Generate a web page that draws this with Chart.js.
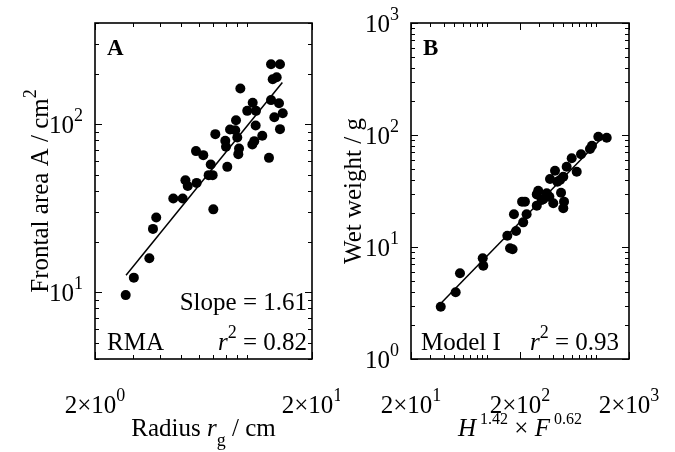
<!DOCTYPE html>
<html>
<head>
<meta charset="utf-8">
<script src="https://cdn.jsdelivr.net/npm/chart.js@4.4.0/dist/chart.umd.min.js"></script>
<style>
  html, body { margin: 0; padding: 0; background: #fff; }
  #wrap { position: relative; width: 675px; height: 452px; }
  canvas { position: absolute; top: 0; }
  #chartA { left: 0; }
  #chartB { left: 340px; }
</style>
</head>
<body>
<div id="wrap">
  <canvas id="chartA" width="340" height="452"></canvas>
  <canvas id="chartB" width="335" height="452"></canvas>
</div>
<script>
// Panel A: gyration radius vs frontal area
const radiusA = [2.77, 3.02, 3.56, 3.70, 3.83, 4.59, 5.07, 5.22, 5.35, 5.88, 5.84, 6.31, 6.68, 6.97, 6.83,
  7.02, 7.17, 8.14, 7.97, 8.03, 8.38, 8.93, 9.05, 9.22, 9.15, 9.35, 10.06, 10.66, 11.04, 11.0, 10.62,
  10.84, 11.8, 12.67, 12.95, 12.95, 14.24, 13.18, 13.75, 14.09, 13.41, 14.66, 14.24, 8.86];
const areaA = [9.6, 12.2, 15.9, 23.8, 27.8, 36.1, 36.1, 46.4, 42.8, 44.7, 69.1, 65.4, 49.7, 49.7, 57.5,
  31.1, 87.2, 55.7, 79.6, 73.3, 93.0, 105.6, 83.3, 71.7, 66.3, 163, 120, 134, 120, 98.2, 75.7,
  79.2, 85.2, 63.0, 139, 227, 227, 185, 190, 133, 110, 116, 93.4, 92];
const fitRadiusA = [2.78, 14.6];
const fitAreaA = [12.6, 177];
const xRangeA = [2, 20];
const yRangeA = [4, 400];
const xTicksA = [2, 20];
const xTickLabelsA = ['2×10^{0}', '2×10^{1}'];
const yTicksA = [10, 100];
const yTickLabelsA = ['10^{1}', '10^{2}'];

// Panel B: H^1.42 x F^0.62 vs wet weight
const sizeB = [37.5, 51.4, 56.3, 91, 92.1, 153, 162, 171, 184, 176, 214, 230, 209, 222, 285, 294, 327,
  372, 404, 377, 419, 440, 476, 507, 499, 499, 536, 596, 663, 726, 877, 915, 1046, 1249, 352, 316, 466, 285];
const weightB = [2.93, 3.94, 5.82, 7.93, 6.81, 12.6, 9.74, 9.54, 13.9, 19.6, 16.6, 19.6, 25.4, 25.4, 23.4,
  31.8, 26.7, 28.1, 24.6, 40.5, 48.0, 38.3, 30.5, 25.4, 22.2, 42.4, 52.1, 61.9, 47.0, 67.3, 75.0, 80.3,
  96.6, 94.6, 30.2, 26.3, 39.6, 29.5];
const fitSizeB = [35.6, 1084];
const fitWeightB = [2.97, 90.3];
const xRangeB = [20, 2000];
const yRangeB = [1, 1000];
const xTicksB = [20, 200, 2000];
const xTickLabelsB = ['2×10^{1}', '2×10^{2}', '2×10^{3}'];
const yTicksB = [1, 10, 100, 1000];
const yTickLabelsB = ['10^{0}', '10^{1}', '10^{2}', '10^{3}'];

const FONT = "'Liberation Serif', 'Times New Roman', serif";
const FS = 25;

// tiny markup: $italic$, ^{sup}, _{sub}
function parseRich(str) {
  const parts = [];
  const re = /\$([^$]*)\$|\^\{([^}]*)\}|_\{([^}]*)\}|([^$^_]+)/g;
  let m;
  while ((m = re.exec(str))) {
    if (m[1] !== undefined) parts.push({ t: m[1], italic: true });
    else if (m[2] !== undefined) parts.push({ t: m[2], sup: true });
    else if (m[3] !== undefined) parts.push({ t: m[3], sub: true });
    else parts.push({ t: m[4] });
  }
  return parts;
}

function drawRich(ctx, str, x, y, align, size, bold, supScale) {
  const parts = parseRich(str);
  const ss = supScale || 0.72;
  const fontFor = (p) => {
    const s = p.sup || p.sub ? Math.round(size * ss) : size;
    return (p.italic ? 'italic ' : '') + (bold ? 'bold ' : '') + s + 'px ' + FONT;
  };
  let w = 0;
  parts.forEach((p) => { ctx.font = fontFor(p); p.w = ctx.measureText(p.t).width; w += p.w; });
  let cx = align === 'center' ? x - w / 2 : align === 'right' ? x - w : x;
  ctx.textAlign = 'left';
  ctx.textBaseline = 'alphabetic';
  parts.forEach((p) => {
    ctx.font = fontFor(p);
    const dy = p.sup ? -size * 0.5 : p.sub ? size * 0.38 : 0;
    ctx.fillText(p.t, cx, y + dy);
    cx += p.w;
  });
}

function logSteps(min, max) {
  const out = [];
  for (let d = Math.floor(Math.log10(min)); d <= Math.ceil(Math.log10(max)); d++) {
    for (let k = 1; k <= 9; k++) {
      const v = k * Math.pow(10, d);
      if (v >= min * 0.999 && v <= max * 1.001) out.push(v);
    }
  }
  return out;
}

const isMajor = (v, list) => list.some((t) => Math.abs(t - v) / t < 1e-6);

// box, inward ticks, tick labels and texts
const framePlugin = {
  id: 'frame',
  afterDatasetsDraw(chart, args, o) {
    const { ctx, chartArea: a } = chart;
    const sx = chart.scales.x, sy = chart.scales.y;
    ctx.save();
    ctx.fillStyle = '#000';
    ctx.strokeStyle = '#000';
    ctx.lineWidth = 1;
    logSteps(sx.min, sx.max).forEach((v) => {
      const px = Math.round(sx.getPixelForValue(v)) + 0.5;
      const len = isMajor(v, o.xTicks) ? 7 : 4;
      ctx.beginPath();
      ctx.moveTo(px, a.bottom); ctx.lineTo(px, a.bottom - len);
      ctx.moveTo(px, a.top); ctx.lineTo(px, a.top + len);
      ctx.stroke();
    });
    logSteps(sy.min, sy.max).forEach((v) => {
      const py = Math.round(sy.getPixelForValue(v)) + 0.5;
      const len = isMajor(v, o.yTicks) ? 7 : 4;
      ctx.beginPath();
      ctx.moveTo(a.left, py); ctx.lineTo(a.left + len, py);
      ctx.moveTo(a.right, py); ctx.lineTo(a.right - len, py);
      ctx.stroke();
    });
    ctx.lineWidth = 1.6;
    ctx.strokeRect(a.left, a.top, a.right - a.left, a.bottom - a.top);

    o.xTicks.forEach((v, i) => {
      drawRich(ctx, o.xLabels[i], sx.getPixelForValue(v), a.bottom + 54, 'center', FS);
    });
    o.yTicks.forEach((v, i) => {
      drawRich(ctx, o.yLabels[i], a.left - 12, sy.getPixelForValue(v) + 9, 'right', FS);
    });

    drawRich(ctx, o.xTitle, (a.left + a.right) / 2, a.bottom + 77, 'center', FS, false, o.xTitleSup);
    ctx.save();
    ctx.translate(o.yTitleX, (a.top + a.bottom) / 2);
    ctx.rotate(-Math.PI / 2);
    drawRich(ctx, o.yTitle, 0, 0, 'center', FS);
    ctx.restore();

    drawRich(ctx, o.letter, a.left + 12, a.top + 32, 'left', 23, true);
    o.notes.forEach((n) => {
      drawRich(ctx, n.text, n.right ? a.right - n.dx : a.left + n.dx, a.bottom - n.dy, n.right ? 'right' : 'left', FS);
    });
    ctx.restore();
  },
};

function pts(xs, ys) {
  return xs.map((x, i) => ({ x, y: ys[i] }));
}

function makeChart(id, p) {
  return new Chart(document.getElementById(id), {
    type: 'scatter',
    data: {
      datasets: [
        {
          data: pts(p.xs, p.ys),
          pointRadius: 5,
          pointBackgroundColor: '#000',
          pointBorderWidth: 0,
        },
        {
          data: pts(p.fx, p.fy),
          showLine: true,
          borderColor: '#000',
          borderWidth: 1.5,
          pointRadius: 0,
        },
      ],
    },
    options: {
      responsive: false,
      animation: false,
      events: [],
      layout: { padding: p.padding },
      plugins: { legend: { display: false }, tooltip: { enabled: false }, frame: p.frame },
      scales: {
        x: { type: 'logarithmic', min: p.xr[0], max: p.xr[1], display: false },
        y: { type: 'logarithmic', min: p.yr[0], max: p.yr[1], display: false },
      },
    },
    plugins: [framePlugin],
  });
}

makeChart('chartA', {
  xs: radiusA, ys: areaA, fx: fitRadiusA, fy: fitAreaA, xr: xRangeA, yr: yRangeA,
  padding: { left: 95, right: 28, top: 23, bottom: 93 },
  frame: {
    xTicks: xTicksA, xLabels: xTickLabelsA, yTicks: yTicksA, yLabels: yTickLabelsA,
    xTitle: 'Radius $r$_{g} / cm', yTitle: 'Frontal area A / cm^{2}', yTitleX: 48, letter: 'A',
    notes: [
      { text: 'Slope = 1.61', right: true, dx: 5, dy: 49 },
      { text: 'RMA', dx: 12, dy: 9 },
      { text: '$r$^{2} = 0.82', right: true, dx: 5, dy: 9 },
    ],
  },
});

makeChart('chartB', {
  xs: sizeB, ys: weightB, fx: fitSizeB, fy: fitWeightB, xr: xRangeB, yr: yRangeB,
  padding: { left: 71, right: 46, top: 23, bottom: 93 },
  frame: {
    xTicks: xTicksB, xLabels: xTickLabelsB, yTicks: yTicksB, yLabels: yTickLabelsB,
    xTitle: '$H$^{ 1.42} × $F$^{ 0.62}', xTitleSup: 0.64, yTitle: 'Wet weight / g', yTitleX: 21, letter: 'B',
    notes: [
      { text: 'Model I', dx: 10, dy: 9 },
      { text: '$r$^{2} = 0.93', right: true, dx: 10, dy: 9 },
    ],
  },
});
</script>
</body>
</html>
